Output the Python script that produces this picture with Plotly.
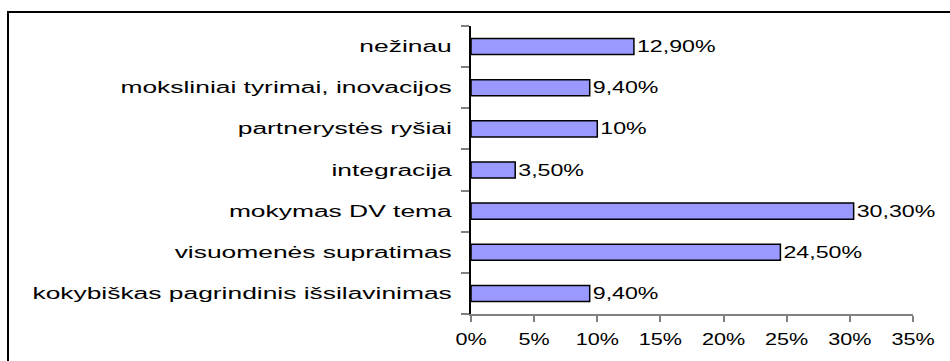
import plotly.graph_objects as go

# Survey answers, bottom to top as they appear on the category axis
categories = [
    "kokybiškas pagrindinis išsilavinimas",
    "visuomenės supratimas",
    "mokymas DV tema",
    "integracija",
    "partnerystės ryšiai",
    "moksliniai tyrimai, inovacijos",
    "nežinau",
]
values = [9.4, 24.5, 30.3, 3.5, 10, 9.4, 12.9]
x_tick_values = [0, 5, 10, 15, 20, 25, 30, 35]
x_tick_labels = ["0%", "5%", "10%", "15%", "20%", "25%", "30%", "35%"]


def pct_label(v):
    if float(v).is_integer():
        return f"{int(v)}%"
    return f"{v:.2f}".replace(".", ",") + "%"


labels = [pct_label(v) for v in values]

W, H = 950, 361
M_L, M_R, M_T, M_B = 471, 37, 26, 47
FONT = "Liberation Sans, Arial, sans-serif"

fig = go.Figure(
    go.Bar(
        x=values,
        y=categories,
        orientation="h",
        marker=dict(color="#9999FF", line=dict(color="#000000", width=1.5)),
        text=labels,
        textposition="outside",
        textfont=dict(family=FONT, size=16, color="#000000"),
        constraintext="none",
        cliponaxis=False,
        hoverinfo="skip",
    )
)

# outer frame of the chart area (top and left edges), pixels -> paper units
pw, ph = W - M_L - M_R, H - M_T - M_B


def px_x(p):
    return (p - M_L) / pw


def px_y(p):
    return (H - M_B - p) / ph


frame = dict(color="#000000", width=2)
fig.add_shape(type="line", xref="paper", yref="paper",
              x0=px_x(7), x1=px_x(W + 5), y0=px_y(12), y1=px_y(12), line=frame, layer="above")
fig.add_shape(type="line", xref="paper", yref="paper",
              x0=px_x(8), x1=px_x(8), y0=px_y(11), y1=px_y(H + 5), line=frame, layer="above")

fig.update_layout(
    width=W, height=H, autosize=False,
    margin=dict(l=M_L, r=M_R, t=M_T, b=M_B, pad=0),
    paper_bgcolor="#FFFFFF", plot_bgcolor="#FFFFFF",
    bargap=0.61, showlegend=False,
    font=dict(family=FONT, size=16, color="#000000"),
)
fig.update_xaxes(
    range=[0, 35], tickvals=x_tick_values, ticktext=x_tick_labels,
    showgrid=False, zeroline=False,
    showline=True, linecolor="#808080", linewidth=2,
    ticks="outside", ticklen=6, tickwidth=2, tickcolor="#808080",
    ticklabelstandoff=4,
    tickfont=dict(family=FONT, size=16, color="#000000"),
    fixedrange=True,
)
fig.update_yaxes(
    categoryorder="array", categoryarray=categories,
    showgrid=False, zeroline=False,
    showline=True, linecolor="#000000", linewidth=2,
    ticks="outside", ticklen=8, tickwidth=2, tickcolor="#808080",
    tickson="boundaries", ticklabelstandoff=14,
    tickfont=dict(family=FONT, size=16, color="#000000"),
    fixedrange=True,
)

# page without scrollbars; glyphs widened horizontally, each label kept anchored
post = """
var css = document.createElement('style');
css.textContent = 'html,body{margin:0;padding:0;overflow:hidden;scrollbar-width:none;}' +
                  '::-webkit-scrollbar{display:none;width:0;height:0;}';
document.head.appendChild(css);
window.scrollTo(0, 0);
var gd = document.getElementById('{plot_id}');
function widen(sel, s, anchor) {
  gd.querySelectorAll(sel).forEach(function (el) {
    var bb = el.getBBox();
    var a = anchor === 'end' ? bb.x + bb.width : (anchor === 'start' ? bb.x : bb.x + bb.width / 2);
    var t = el.getAttribute('transform') || '';
    el.setAttribute('transform', t + ' translate(' + a + ',0) scale(' + s + ',1) translate(' + (-a) + ',0)');
  });
}
widen('g.ytick text', 1.65, 'end');
widen('g.xtick text', 1.35, 'middle');
widen('text.bartext', 1.45, 'start');
"""

fig.write_html("out.html", config={"displayModeBar": False, "staticPlot": True}, post_script=post)
